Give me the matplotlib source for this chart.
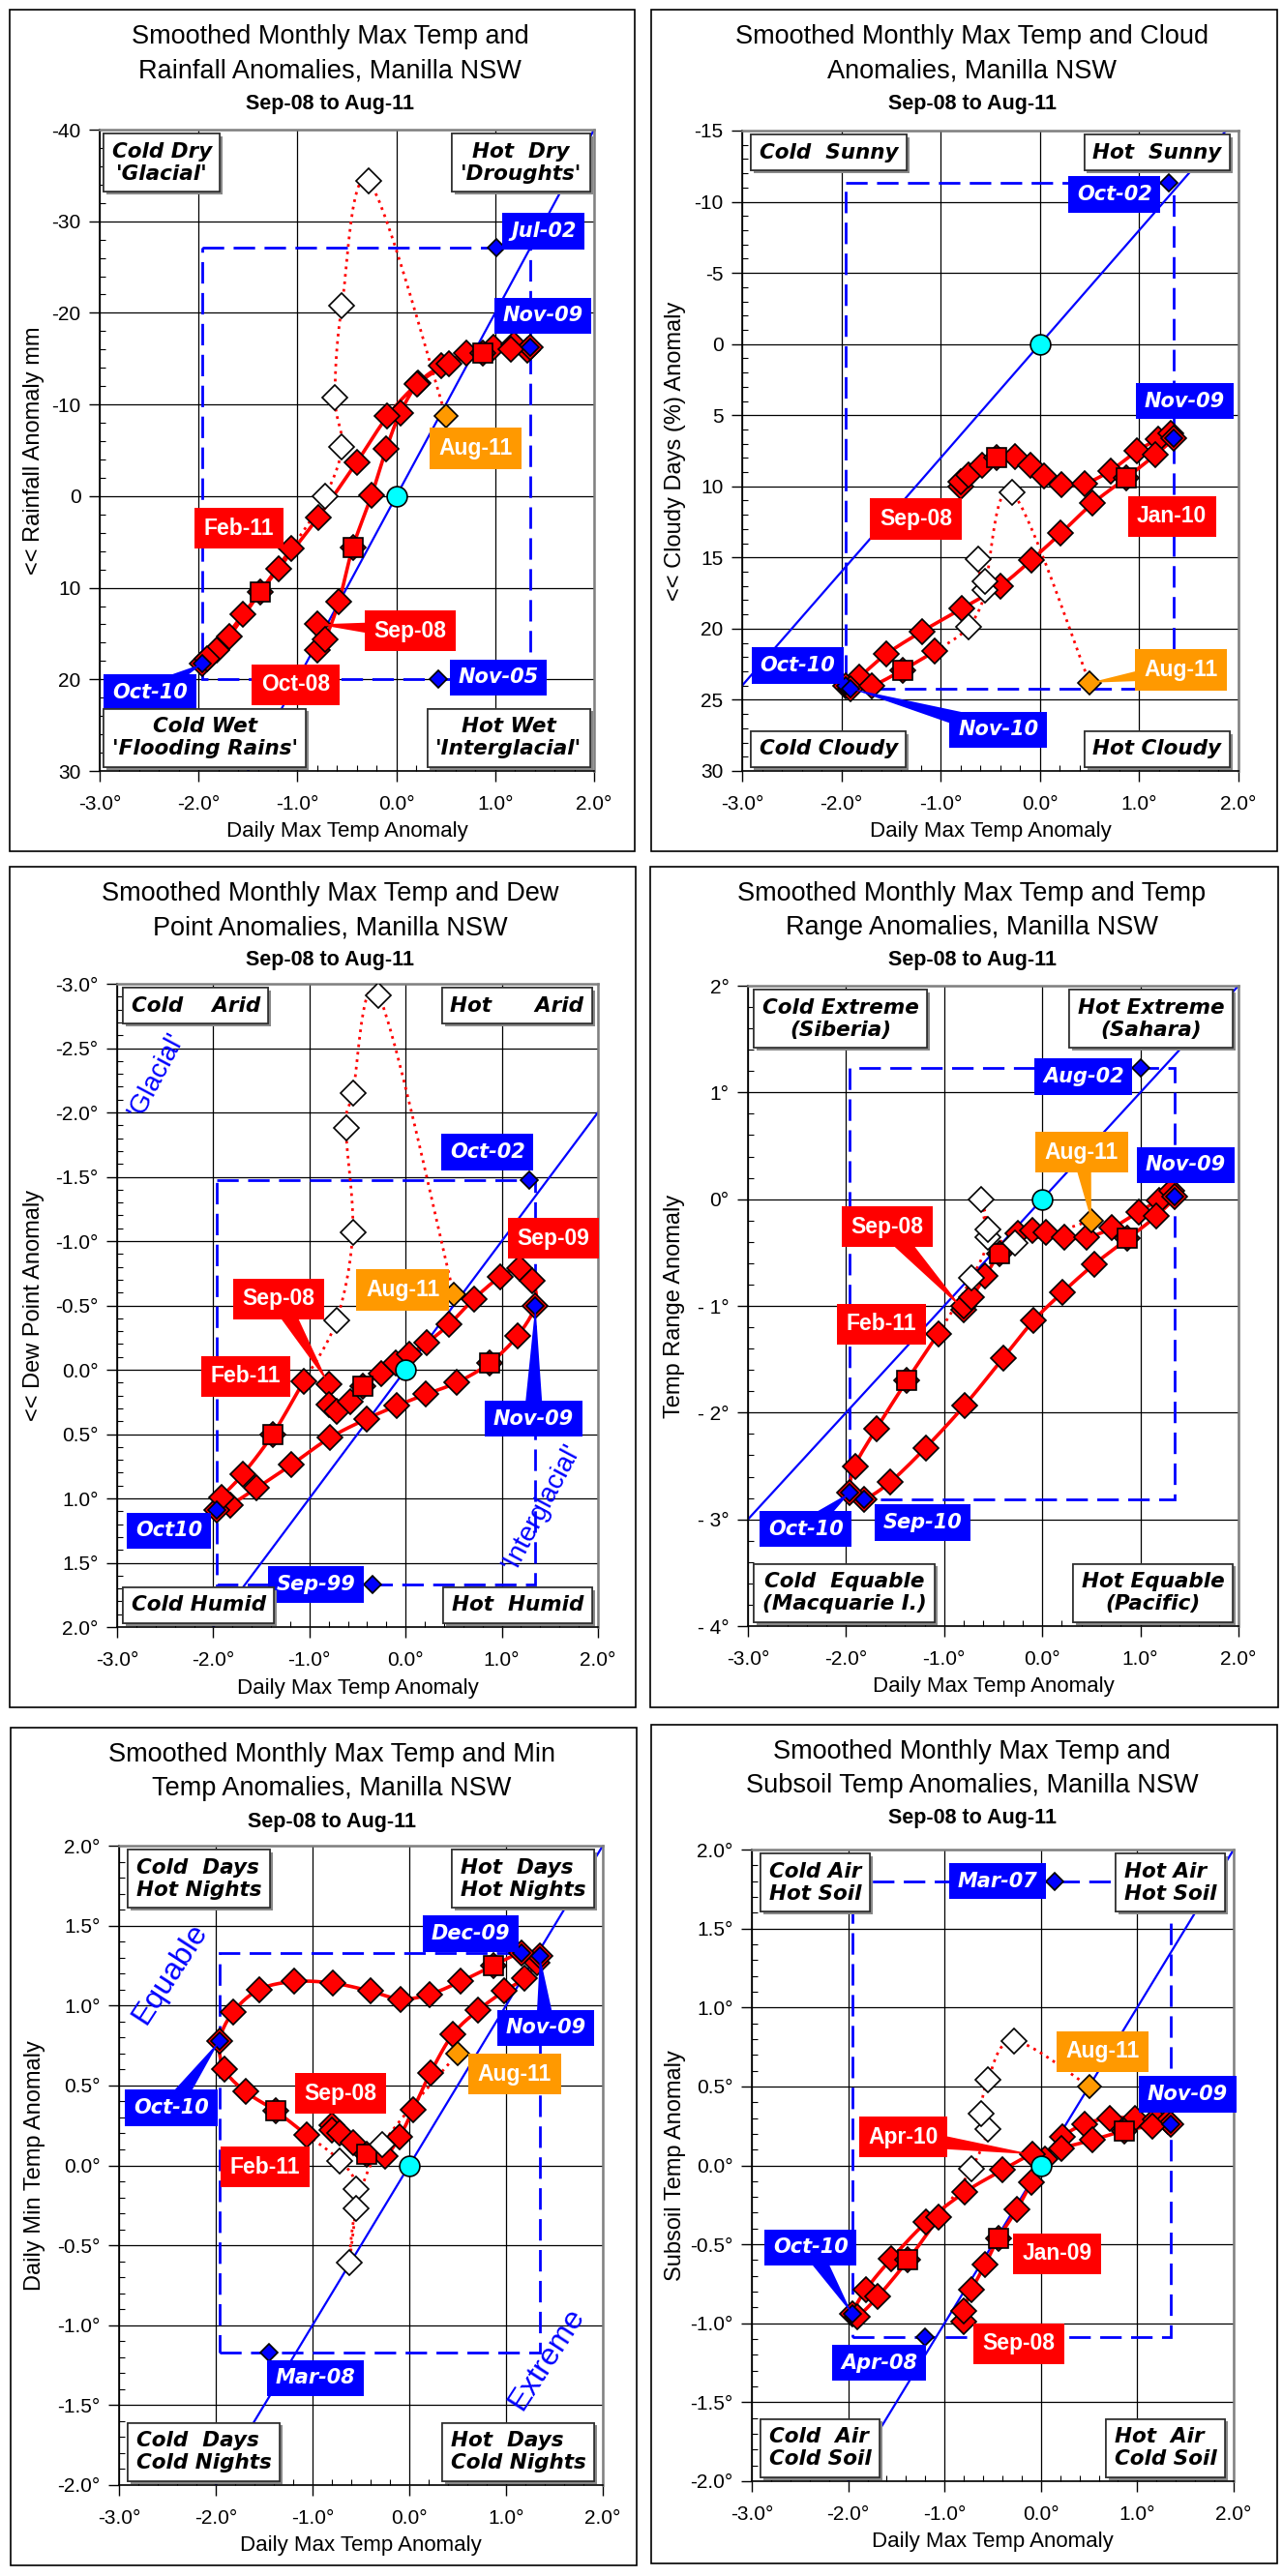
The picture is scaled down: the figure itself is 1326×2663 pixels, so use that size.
import numpy as np
import matplotlib.pyplot as plt
import matplotlib.patheffects as pe
from matplotlib.patches import Rectangle, Polygon
from matplotlib.ticker import MultipleLocator
from matplotlib import font_manager

# ---- data: smoothed monthly anomalies, Sep-08 .. Aug-11 ----
months = ['Sep-08', 'Oct-08', 'Nov-08', 'Dec-08',
          'Jan-09', 'Feb-09', 'Mar-09', 'Apr-09', 'May-09', 'Jun-09',
          'Jul-09', 'Aug-09', 'Sep-09', 'Oct-09', 'Nov-09', 'Dec-09',
          'Jan-10', 'Feb-10', 'Mar-10', 'Apr-10', 'May-10', 'Jun-10',
          'Jul-10', 'Aug-10', 'Sep-10', 'Oct-10', 'Nov-10', 'Dec-10',
          'Jan-11', 'Feb-11', 'Mar-11', 'Apr-11', 'May-11', 'Jun-11',
          'Jul-11', 'Aug-11']

max_temp = [-0.80, -0.80, -0.72, -0.58, -0.44, -0.25, -0.10, 0.04, 0.22, 0.45,
            0.71, 0.98, 1.19, 1.32, 1.35, 1.16, 0.87, 0.53, 0.21, -0.09,
            -0.40, -0.79, -1.19, -1.55, -1.82, -1.96, -1.91, -1.69, -1.38, -1.06,
            -0.72, -0.55, -0.62, -0.55, -0.28, 0.50]

rain = [14.0, 16.8, 15.6, 11.5, 5.6, -0.1, -5.2, -9.1, -12.3, -14.2,
        -15.6, -16.2, -16.6, -15.9, -16.2, -16.0, -15.6, -14.4, -12.2, -8.7,
        -3.7, 2.3, 7.9, 12.9, 16.8, 18.3, 17.7, 15.3, 10.5, 5.7,
        0.0, -5.4, -10.8, -20.8, -34.4, -8.8]

cloud = [10.0, 9.7, 9.2, 8.5, 8.0, 7.9, 8.5, 9.3, 9.9, 9.8,
         8.9, 7.5, 6.7, 6.3, 6.6, 7.8, 9.4, 11.2, 13.3, 15.2,
         17.0, 18.6, 20.2, 21.8, 23.4, 24.0, 24.2, 24.0, 22.9, 21.6,
         19.9, 17.3, 15.1, 16.7, 10.4, 23.8]

dew = [0.11, 0.27, 0.32, 0.25, 0.13, 0.03, -0.05, -0.12, -0.21, -0.35,
       -0.55, -0.72, -0.79, -0.69, -0.50, -0.26, -0.05, 0.10, 0.19, 0.28,
       0.38, 0.53, 0.74, 0.92, 1.05, 1.09, 0.99, 0.81, 0.50, 0.09,
       -0.38, -1.07, -1.88, -2.15, -2.91, -0.59]

temp_range = [-1.04, -1.00, -0.92, -0.72, -0.51, -0.32, -0.29, -0.31, -0.36, -0.36,
              -0.27, -0.12, -0.01, 0.08, 0.02, -0.16, -0.37, -0.61, -0.87, -1.14,
              -1.49, -1.93, -2.33, -2.65, -2.81, -2.75, -2.50, -2.15, -1.70, -1.26,
              -0.74, -0.36, 0.00, -0.28, -0.41, -0.20]

min_temp = [0.25, 0.22, 0.20, 0.14, 0.07, 0.06, 0.18, 0.35, 0.58, 0.82,
            0.97, 1.09, 1.17, 1.27, 1.31, 1.33, 1.25, 1.15, 1.07, 1.04,
            1.09, 1.14, 1.15, 1.10, 0.96, 0.78, 0.60, 0.46, 0.34, 0.19,
            0.03, -0.15, -0.61, -0.27, 0.13, 0.70]

subsoil = [-0.99, -0.92, -0.79, -0.63, -0.46, -0.28, -0.11, 0.04, 0.18, 0.26,
           0.30, 0.30, 0.29, 0.28, 0.26, 0.25, 0.22, 0.16, 0.11, 0.07,
           -0.03, -0.17, -0.36, -0.59, -0.79, -0.94, -0.96, -0.83, -0.60, -0.33,
           -0.02, 0.23, 0.33, 0.54, 0.79, 0.50]

# record extremes from the longer record (blue diamonds)
rain_ext_x, rain_ext_y = [1.01, 0.42], [-27.1, 20.0]
cloud_ext_x, cloud_ext_y = [1.30], [-11.3]
dew_ext_x, dew_ext_y = [1.29, -0.34], [-1.47, 1.67]
range_ext_x, range_ext_y = [1.00], [1.23]
min_ext_x, min_ext_y = [-1.45], [-1.17]
soil_ext_x, soil_ext_y = [0.14, -1.20], [1.80, -1.09]

# long-term mean (origin) and slope of the blue reference line
origin_x, origin_y = [0.0], [0.0]
diag_slope = [-20, -8, -1, 1, 1, 1]

x_ticks = [-3, -2, -1, 0, 1, 2]
x_ticklabels = ['-3.0°', '-2.0°', '-1.0°', '0.0°', '1.0°', '2.0°']

RED, BLUE, ORANGE = '#FF0000', '#0000FF', '#FF9900'
N_SOLID = 30          # Sep-08 .. Feb-11 fully smoothed
JAN = [4, 16, 28]     # January of each year (squares)

names = {f.name for f in font_manager.fontManager.ttflist}
if 'Liberation Sans Narrow' in names:
    NARROW, YLAB_FS = 'Liberation Sans Narrow', 20
else:
    NARROW, YLAB_FS = 'Liberation Sans', 17
plt.rcParams['font.family'] = ['Liberation Sans', 'DejaVu Sans']

W, H = 1326, 2663
fig = plt.figure(figsize=(W / 100, H / 100), dpi=100)


def fig_rect(x0, y0, x1, y1):
    return [x0 / W, 1 - y1 / H, (x1 - x0) / W, (y1 - y0) / H]


def smooth(xs, ys, n=12):
    # Catmull-Rom path through the points (drawing only, like Excel's smoothed line)
    pts = np.column_stack([xs, ys])
    p = np.vstack([pts[0], pts, pts[-1]])
    t = np.linspace(0, 1, n, endpoint=False)[:, None]
    out = []
    for i in range(1, len(p) - 2):
        p0, p1, p2, p3 = p[i - 1], p[i], p[i + 1], p[i + 2]
        out.append(0.5 * (2 * p1 + (-p0 + p2) * t + (2 * p0 - 5 * p1 + 4 * p2 - p3) * t ** 2
                          + (-p0 + 3 * p1 - 3 * p2 + p3) * t ** 3))
    out.append(pts[-1:])
    return np.vstack(out)


def pointer(ax, cx, cy, tx, ty, color, half=10):
    p0 = ax.transData.transform((cx, cy))
    p1 = ax.transData.transform((tx, ty))
    d = p1 - p0
    nrm = np.array([-d[1], d[0]]) / np.hypot(*d) * half
    pts = ax.transData.inverted().transform([p0 + nrm, p0 - nrm, p1])
    ax.add_patch(Polygon(pts, closed=True, fc=color, ec='none', zorder=6))


panels = [
    dict(frame=(10, 10, 656, 880), axes=(103, 134, 614, 797),
         title=('Smoothed Monthly Max Temp and', 'Rainfall Anomalies, Manilla NSW'),
         ylabel='<< Rainfall Anomaly mm', y=rain, ext=(rain_ext_x, rain_ext_y),
         ylim=(30, -40), yticks=[-40, -30, -20, -10, 0, 10, 20, 30],
         yticklabels=['-40', '-30', '-20', '-10', '0', '10', '20', '30'], yminor=2,
         blue=[14, 25],
         labels=[('Jul-02', BLUE, 1.49, -28.9, None), ('Nov-09', BLUE, 1.48, -19.7, None),
                 ('Aug-11', ORANGE, 0.80, -5.2, None), ('Feb-11', RED, -1.59, 3.5, None),
                 ('Sep-08', RED, 0.14, 14.7, 0), ('Oct-08', RED, -1.02, 20.6, None),
                 ('Nov-05', BLUE, 1.03, 19.8, None), ('Oct-10', BLUE, -2.49, 21.4, 25)],
         corners=("Cold Dry\n'Glacial'", "Hot  Dry\n'Droughts'",
                  "Cold Wet\n'Flooding Rains'", "Hot Wet\n'Interglacial'"), calign='center',
         cinset=4, extra=[]),
    dict(frame=(673, 10, 1320, 880), axes=(767, 135, 1280, 797),
         title=('Smoothed Monthly Max Temp and Cloud', 'Anomalies, Manilla NSW'),
         ylabel='<< Cloudy Days (%) Anomaly', y=cloud, ext=(cloud_ext_x, cloud_ext_y),
         ylim=(30, -15), yticks=[-15, -10, -5, 0, 5, 10, 15, 20, 25, 30],
         yticklabels=['-15', '-10', '-5', '0', '5', '10', '15', '20', '25', '30'], yminor=1,
         blue=[14, 25, 26],
         labels=[('Oct-02', BLUE, 0.75, -10.5, None), ('Nov-09', BLUE, 1.46, 4.0, None),
                 ('Sep-08', RED, -1.25, 12.3, None), ('Jan-10', RED, 1.33, 12.1, None),
                 ('Oct-10', BLUE, -2.44, 22.6, None), ('Aug-11', ORANGE, 1.42, 22.9, 35),
                 ('Nov-10', BLUE, -0.42, 27.1, 26)],
         corners=('Cold  Sunny', 'Hot  Sunny', 'Cold Cloudy', 'Hot Cloudy'), calign='center',
         cinset=9, extra=[]),
    dict(frame=(10, 896, 657, 1765), axes=(121, 1017, 618, 1682),
         title=('Smoothed Monthly Max Temp and Dew', 'Point Anomalies, Manilla NSW'),
         ylabel='<< Dew Point Anomaly', y=dew, ext=(dew_ext_x, dew_ext_y),
         ylim=(2.0, -3.0), yticks=[-3, -2.5, -2, -1.5, -1, -0.5, 0, 0.5, 1, 1.5, 2],
         yticklabels=['-3.0°', '-2.5°', '-2.0°', '-1.5°', '-1.0°', '-0.5°', '0.0°',
                      '0.5°', '1.0°', '1.5°', '2.0°'], yminor=0.1,
         blue=[14, 25],
         labels=[('Oct-02', BLUE, 0.85, -1.69, None), ('Sep-09', RED, 1.54, -1.02, None),
                 ('Aug-11', ORANGE, -0.03, -0.62, None), ('Sep-08', RED, -1.32, -0.55, 0),
                 ('Feb-11', RED, -1.66, 0.05, None), ('Nov-09', BLUE, 1.33, 0.38, 14),
                 ('Oct10', BLUE, -2.46, 1.25, None), ('Sep-99', BLUE, -0.93, 1.67, None)],
         corners=('Cold    Arid', 'Hot      Arid', 'Cold Humid', 'Hot  Humid'), calign='center',
         cinset=6, extra=[("'Glacial'", -2.59, -2.29, 62, 20), ("'Interglacial'", 1.42, 1.07, 62, 20)]),
    dict(frame=(672, 896, 1321, 1765), axes=(773, 1019, 1280, 1681),
         title=('Smoothed Monthly Max Temp and Temp', 'Range Anomalies, Manilla NSW'),
         ylabel='Temp Range Anomaly', y=temp_range, ext=(range_ext_x, range_ext_y),
         ylim=(-4, 2), yticks=[2, 1, 0, -1, -2, -3, -4],
         yticklabels=['2°', '1°', '0°', '- 1°', '- 2°', '- 3°', '- 4°'], yminor=0.2,
         blue=[14, 25, 24],
         labels=[('Aug-02', BLUE, 0.42, 1.15, None), ('Aug-11', ORANGE, 0.40, 0.44, 35),
                 ('Nov-09', BLUE, 1.46, 0.32, None), ('Sep-08', RED, -1.58, -0.26, 0),
                 ('Feb-11', RED, -1.64, -1.17, None), ('Oct-10', BLUE, -2.41, -3.09, 25),
                 ('Sep-10', BLUE, -1.22, -3.03, None)],
         corners=('Cold Extreme\n(Siberia)', 'Hot Extreme\n(Sahara)',
                  'Cold  Equable\n(Macquarie I.)', 'Hot Equable\n(Pacific)'), calign='center',
         cinset=6, extra=[]),
    dict(frame=(11, 1786, 658, 2652), axes=(123, 1908, 623, 2569),
         title=('Smoothed Monthly Max Temp and Min', 'Temp Anomalies, Manilla NSW'),
         ylabel='Daily Min Temp Anomaly', y=min_temp, ext=(min_ext_x, min_ext_y),
         ylim=(-2, 2), yticks=[2, 1.5, 1, 0.5, 0, -0.5, -1, -1.5, -2],
         yticklabels=['2.0°', '1.5°', '1.0°', '0.5°', '0.0°', '-0.5°', '-1.0°', '-1.5°', '-2.0°'],
         yminor=0.1, blue=[14, 25, 15],
         labels=[('Dec-09', BLUE, 0.63, 1.45, None), ('Nov-09', BLUE, 1.41, 0.86, 14),
                 ('Aug-11', ORANGE, 1.09, 0.57, None), ('Sep-08', RED, -0.71, 0.45, None),
                 ('Oct-10', BLUE, -2.46, 0.36, 25), ('Feb-11', RED, -1.49, -0.01, None),
                 ('Mar-08', BLUE, -0.97, -1.33, None)],
         corners=('Cold  Days\nHot Nights', 'Hot  Days\nHot Nights',
                  'Cold  Days\nCold Nights', 'Hot  Days\nCold Nights'), calign='left',
         cinset=9, extra=[('Equable', -2.47, 1.20, 57, 23), ('Extreme', 1.42, -1.21, 57, 23)]),
    dict(frame=(673, 1783, 1320, 2650), axes=(777, 1912, 1275, 2565),
         title=('Smoothed Monthly Max Temp and', 'Subsoil Temp Anomalies, Manilla NSW'),
         ylabel='Subsoil Temp Anomaly', y=subsoil, ext=(soil_ext_x, soil_ext_y),
         ylim=(-2, 2), yticks=[2, 1.5, 1, 0.5, 0, -0.5, -1, -1.5, -2],
         yticklabels=['2.0°', '1.5°', '1.0°', '0.5°', '0.0°', '-0.5°', '-1.0°', '-1.5°', '-2.0°'],
         yminor=0.1, blue=[14, 25],
         labels=[('Mar-07', BLUE, -0.45, 1.80, None), ('Aug-11', ORANGE, 0.64, 0.72, None),
                 ('Nov-09', BLUE, 1.52, 0.45, None), ('Apr-10', RED, -1.43, 0.18, 19),
                 ('Oct-10', BLUE, -2.39, -0.52, 25), ('Jan-09', RED, 0.17, -0.56, None),
                 ('Sep-08', RED, -0.23, -1.13, None), ('Apr-08', BLUE, -1.68, -1.25, None)],
         corners=('Cold Air\nHot Soil', 'Hot Air\nHot Soil',
                  'Cold  Air\nCold Soil', 'Hot  Air\nCold Soil'), calign='left',
         cinset=9, extra=[]),
]

x = np.array(max_temp)

for k, p in enumerate(panels):
    fx0, fy0, fx1, fy1 = p['frame']
    fig.add_artist(Rectangle((fx0 / W, 1 - fy1 / H), (fx1 - fx0) / W, (fy1 - fy0) / H,
                             transform=fig.transFigure, fill=False, ec='black', lw=1.2))
    cx = (fx0 + fx1) / 2 + 8
    fig.text(cx / W, 1 - (fy0 + 28) / H, p['title'][0], ha='center', va='center', fontsize=19.5)
    fig.text(cx / W, 1 - (fy0 + 63) / H, p['title'][1], ha='center', va='center', fontsize=19.5)
    fig.text(cx / W, 1 - (fy0 + 97) / H, 'Sep-08 to Aug-11', ha='center', va='center',
             fontsize=15.5, fontweight='bold')

    ax0, ay0, ax1, ay1 = p['axes']
    aw, ah = ax1 - ax0, ay1 - ay0
    ax = fig.add_axes(fig_rect(*p['axes']))
    ax.set_xlim(-3, 2)
    ax.set_ylim(*p['ylim'])
    ax.set_xticks(x_ticks)
    ax.set_xticklabels(x_ticklabels)
    ax.set_yticks(p['yticks'])
    ax.set_yticklabels(p['yticklabels'])
    ax.xaxis.set_minor_locator(MultipleLocator(0.2))
    ax.yaxis.set_minor_locator(MultipleLocator(p['yminor']))
    ax.tick_params(which='major', direction='out', length=8, width=1, labelsize=15)
    ax.tick_params(axis='x', which='major', pad=10)
    ax.tick_params(axis='y', which='major', pad=6)
    ax.tick_params(which='minor', direction='in', length=4, width=0.8)
    ax.grid(True, which='major', color='black', lw=0.9)
    ax.set_axisbelow(True)
    for s in ('left', 'bottom'):
        ax.spines[s].set_linewidth(1.2)
    for s in ('top', 'right'):
        ax.spines[s].set_color('#808080')
        ax.spines[s].set_linewidth(1.8)

    ax.text(0.5, -63 / ah, 'Daily Max Temp Anomaly', transform=ax.transAxes,
            ha='center', va='center', fontsize=16)
    ax.text((fx0 + 25 - ax0) / aw, 0.5, p['ylabel'], transform=ax.transAxes,
            ha='center', va='center', rotation=90, fontsize=YLAB_FS, family=NARROW)

    y = np.array(p['y'])
    ex, ey = p['ext']

    # range box of the loop and the record extremes
    bx = list(x[:N_SOLID]) + ex
    by = list(y[:N_SOLID]) + ey
    ax.add_patch(Rectangle((min(bx), min(by)), max(bx) - min(bx), max(by) - min(by),
                           fill=False, ec=BLUE, lw=2, ls=(0, (8, 3.5)), zorder=2))
    ax.axline((origin_x[0], origin_y[0]), slope=diag_slope[k], color=BLUE, lw=1.6, zorder=2)

    sp = smooth(x[:N_SOLID], y[:N_SOLID])
    ax.plot(sp[:, 0], sp[:, 1], color=RED, lw=2.6, zorder=3, solid_capstyle='round')
    tp = smooth(x[N_SOLID - 1:], y[N_SOLID - 1:])
    ax.plot(tp[:, 0], tp[:, 1], color=RED, lw=2, ls=(0, (1, 1.8)), zorder=3)

    ax.plot(x[:N_SOLID], y[:N_SOLID], ls='none', marker='D', ms=13.5, mfc=RED,
            mec='black', mew=1.2, zorder=4)
    ax.plot(x[JAN], y[JAN], ls='none', marker='s', ms=14, mfc=RED, mec='black', mew=1.2, zorder=4)
    ax.plot(x[N_SOLID:-1], y[N_SOLID:-1], ls='none', marker='D', ms=13.5, mfc='white',
            mec='black', mew=1.2, zorder=4)
    ax.plot(x[-1:], y[-1:], ls='none', marker='D', ms=12, mfc=ORANGE, mec='black', mew=1.2, zorder=4)
    ax.plot(origin_x, origin_y, ls='none', marker='o', ms=15, mfc='#00FFFF', mec='black',
            mew=1.2, zorder=5)
    bi = p['blue']
    ax.plot(x[bi], y[bi], ls='none', marker='D', ms=9.5, mfc=BLUE, mec='black', mew=1.2, zorder=5)
    ax.plot(ex, ey, ls='none', marker='D', ms=9, mfc=BLUE, mec='black', mew=1.2, zorder=5)

    for txt, col, lx, ly, tip in p['labels']:
        if tip is not None:
            pointer(ax, lx, ly, x[tip], y[tip], col)
        if col == BLUE:
            kw = dict(family='DejaVu Sans', fontweight='bold', fontstyle='italic', fontsize=15)
        else:
            kw = dict(fontweight='bold', fontsize=16.5)
        ax.text(lx, ly, txt, ha='center', va='center', color='white', zorder=7,
                bbox=dict(boxstyle='square,pad=0.42', fc=col, ec='none'), **kw)

    for txt, lx, ly, rot, fs in p['extra']:
        ax.text(lx, ly, txt, ha='center', va='center', rotation=rot, color=BLUE,
                fontsize=fs, zorder=3)

    # corner boxes: pad 0.4 em of 15.5 pt ~ 8.6 px
    padpx = 0.4 * 15.5 * 100 / 72
    hx = (p['cinset'] + padpx) / aw
    vy = (4 + padpx) / ah
    ckw = dict(family='DejaVu Sans', fontweight='bold', fontstyle='italic', fontsize=15.5,
               transform=ax.transAxes, zorder=8, multialignment=p['calign'],
               bbox=dict(boxstyle='square,pad=0.4', fc='white', ec='#303030', lw=1.2))
    tl, tr, bl, br = p['corners']
    for txt, tx_, ty_, ha, va in ((tl, hx, 1 - vy, 'left', 'top'), (tr, 1 - hx, 1 - vy, 'right', 'top'),
                                  (bl, hx, vy, 'left', 'bottom'), (br, 1 - hx, vy, 'right', 'bottom')):
        t = ax.text(tx_, ty_, txt, ha=ha, va=va, **ckw)
        t.get_bbox_patch().set_path_effects(
            [pe.withSimplePatchShadow(offset=(2, -2), shadow_rgbFace='#888888', alpha=1.0), pe.Normal()])

fig.savefig('out.png', dpi=100, facecolor='white')
